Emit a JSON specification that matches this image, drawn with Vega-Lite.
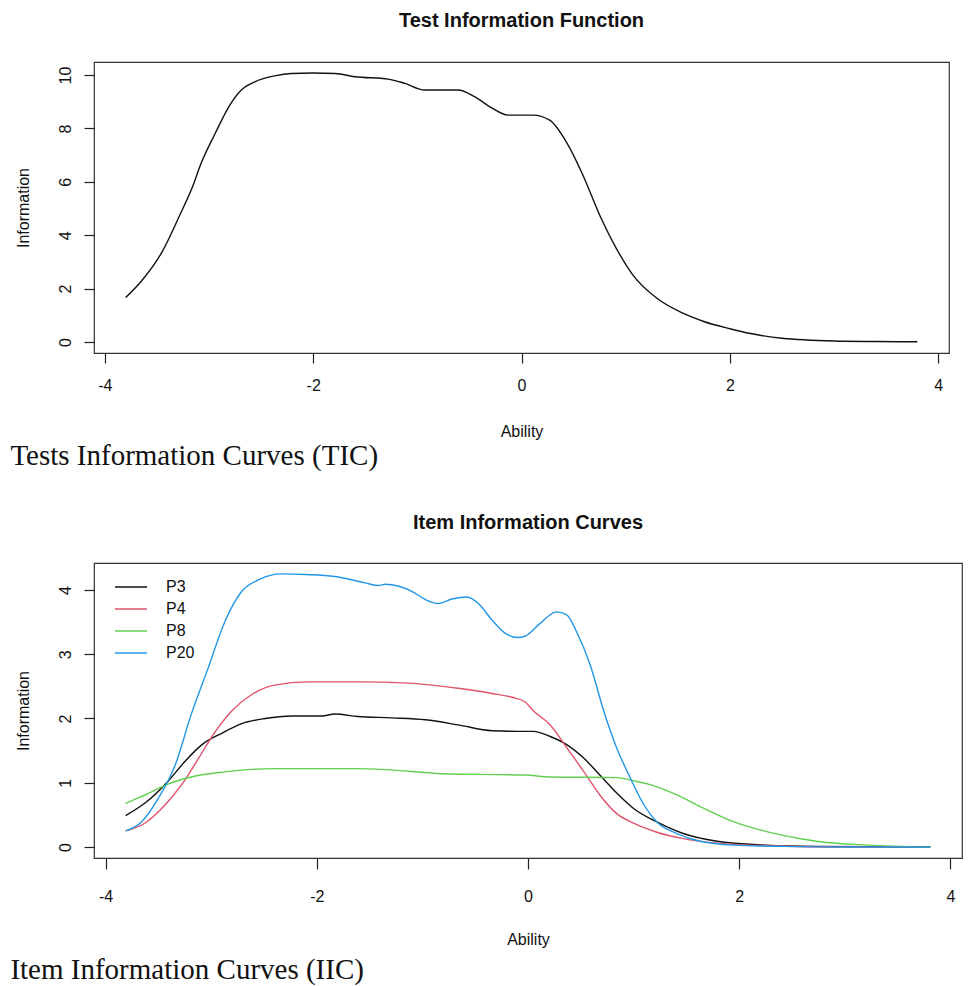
{
  "$schema": "https://vega.github.io/schema/vega-lite/v6.json",
  "padding": {"left": 10, "top": 10, "right": 0, "bottom": 0},
  "background": "white",
  "spacing": 41,
  "config": {
    "view": {"stroke": "#333333", "strokeWidth": 1.2},
    "axis": {
      "grid": false,
      "domain": false,
      "tickColor": "#222222",
      "tickWidth": 1.2,
      "tickSize": 10,
      "labelFont": "Liberation Sans",
      "labelFontSize": 16,
      "labelColor": "#111111",
      "titleFont": "Liberation Sans",
      "titleFontSize": 16,
      "titleFontWeight": "normal",
      "titleColor": "#111111",
      "labelExpr": "datum.value < 0 ? '-' + abs(datum.value) : '' + datum.value"
    },
    "axisX": {"labelPadding": 14, "labelBaseline": "top", "titlePadding": 30},
    "axisY": {"labelAngle": -90, "labelAlign": "center", "labelBaseline": "alphabetic", "labelPadding": 14, "titlePadding": 26},
    "title": {"font": "Liberation Sans", "fontSize": 20, "fontWeight": "bold", "color": "#111111", "offset": 31}
  },
  "vconcat": [
    {
      "title": {"text": "Tests Information Curves (TIC)", "orient": "bottom", "anchor": "start", "font": "Liberation Serif", "fontSize": 29, "fontWeight": "normal", "offset": 2, "dx": -4, "color": "#111111"},
      "vconcat": [
        {
          "title": {"text": "Test Information Function"},
          "width": 855,
          "height": 291,
          "data": {"values": [
            {"a": -3.80, "info": 1.67},
            {"a": -3.65, "info": 2.28},
            {"a": -3.45, "info": 3.38},
            {"a": -3.28, "info": 4.76},
            {"a": -3.165, "info": 5.75},
            {"a": -3.07, "info": 6.75},
            {"a": -2.94, "info": 7.82},
            {"a": -2.81, "info": 8.81},
            {"a": -2.69, "info": 9.44},
            {"a": -2.56, "info": 9.75},
            {"a": -2.37, "info": 9.97},
            {"a": -2.21, "info": 10.06},
            {"a": -2.0, "info": 10.08},
            {"a": -1.79, "info": 10.06},
            {"a": -1.60, "info": 9.94},
            {"a": -1.28, "info": 9.85},
            {"a": -1.12, "info": 9.69},
            {"a": -0.93, "info": 9.44},
            {"a": -0.61, "info": 9.44},
            {"a": -0.45, "info": 9.19},
            {"a": -0.29, "info": 8.78},
            {"a": -0.13, "info": 8.50},
            {"a": 0.11, "info": 8.50},
            {"a": 0.27, "info": 8.31},
            {"a": 0.43, "info": 7.50},
            {"a": 0.59, "info": 6.25},
            {"a": 0.75, "info": 4.76},
            {"a": 0.91, "info": 3.51},
            {"a": 1.07, "info": 2.51},
            {"a": 1.30, "info": 1.64},
            {"a": 1.55, "info": 1.08},
            {"a": 1.75, "info": 0.77},
            {"a": 2.0, "info": 0.50},
            {"a": 2.2, "info": 0.32},
            {"a": 2.5, "info": 0.14},
            {"a": 3.0, "info": 0.04},
            {"a": 3.4, "info": 0.02},
            {"a": 3.8, "info": 0.01}
          ]},
          "mark": {"type": "line", "color": "#111111", "strokeWidth": 1.4, "interpolate": "monotone"},
          "encoding": {
            "x": {"field": "a", "type": "quantitative", "title": "Ability", "scale": {"domain": [-4.104, 4.104], "nice": false, "zero": false}, "axis": {"values": [-4, -2, 0, 2, 4]}},
            "y": {"field": "info", "type": "quantitative", "title": "Information", "scale": {"domain": [-0.41, 10.49], "nice": false, "zero": false}, "axis": {"values": [0, 2, 4, 6, 8, 10]}}
          }
        }
      ]
    },
    {
      "title": {"text": "Item Information Curves (IIC)", "orient": "bottom", "anchor": "start", "font": "Liberation Serif", "fontSize": 29, "fontWeight": "normal", "offset": 8, "dx": -4, "color": "#111111"},
      "vconcat": [
        {
          "title": {"text": "Item Information Curves", "offset": 30},
          "width": 868,
          "height": 295,
          "data": {"values": [
            {"item": "P3", "a": -3.81, "info": 0.49},
            {"item": "P3", "a": -3.63, "info": 0.68},
            {"item": "P3", "a": -3.41, "info": 1.02},
            {"item": "P3", "a": -3.25, "info": 1.33},
            {"item": "P3", "a": -3.09, "info": 1.59},
            {"item": "P3", "a": -2.90, "info": 1.77},
            {"item": "P3", "a": -2.71, "info": 1.92},
            {"item": "P3", "a": -2.49, "info": 2.00},
            {"item": "P3", "a": -2.24, "info": 2.04},
            {"item": "P3", "a": -1.95, "info": 2.04},
            {"item": "P3", "a": -1.83, "info": 2.07},
            {"item": "P3", "a": -1.61, "info": 2.03},
            {"item": "P3", "a": -1.29, "info": 2.01},
            {"item": "P3", "a": -0.97, "info": 1.98},
            {"item": "P3", "a": -0.66, "info": 1.90},
            {"item": "P3", "a": -0.34, "info": 1.81},
            {"item": "P3", "a": -0.03, "info": 1.80},
            {"item": "P3", "a": 0.05, "info": 1.80},
            {"item": "P3", "a": 0.21, "info": 1.72},
            {"item": "P3", "a": 0.37, "info": 1.59},
            {"item": "P3", "a": 0.53, "info": 1.38},
            {"item": "P3", "a": 0.68, "info": 1.12},
            {"item": "P3", "a": 0.84, "info": 0.84},
            {"item": "P3", "a": 1.00, "info": 0.60},
            {"item": "P3", "a": 1.22, "info": 0.39},
            {"item": "P3", "a": 1.47, "info": 0.21},
            {"item": "P3", "a": 1.79, "info": 0.09},
            {"item": "P3", "a": 2.26, "info": 0.03},
            {"item": "P3", "a": 2.73, "info": 0.01},
            {"item": "P3", "a": 3.81, "info": 0.0},
            {"item": "P4", "a": -3.81, "info": 0.25},
            {"item": "P4", "a": -3.63, "info": 0.37},
            {"item": "P4", "a": -3.44, "info": 0.65},
            {"item": "P4", "a": -3.28, "info": 0.97},
            {"item": "P4", "a": -3.12, "info": 1.38},
            {"item": "P4", "a": -2.96, "info": 1.80},
            {"item": "P4", "a": -2.81, "info": 2.11},
            {"item": "P4", "a": -2.62, "info": 2.37},
            {"item": "P4", "a": -2.40, "info": 2.52},
            {"item": "P4", "a": -2.08, "info": 2.57},
            {"item": "P4", "a": -1.61, "info": 2.57},
            {"item": "P4", "a": -1.13, "info": 2.55},
            {"item": "P4", "a": -0.66, "info": 2.47},
            {"item": "P4", "a": -0.34, "info": 2.39},
            {"item": "P4", "a": -0.15, "info": 2.33},
            {"item": "P4", "a": -0.03, "info": 2.26},
            {"item": "P4", "a": 0.05, "info": 2.12},
            {"item": "P4", "a": 0.21, "info": 1.90},
            {"item": "P4", "a": 0.37, "info": 1.54},
            {"item": "P4", "a": 0.53, "info": 1.17},
            {"item": "P4", "a": 0.68, "info": 0.81},
            {"item": "P4", "a": 0.84, "info": 0.52},
            {"item": "P4", "a": 1.00, "info": 0.37},
            {"item": "P4", "a": 1.22, "info": 0.23},
            {"item": "P4", "a": 1.47, "info": 0.13},
            {"item": "P4", "a": 1.79, "info": 0.06},
            {"item": "P4", "a": 2.26, "info": 0.02},
            {"item": "P4", "a": 3.0, "info": 0.0},
            {"item": "P4", "a": 3.81, "info": 0.0},
            {"item": "P8", "a": -3.81, "info": 0.68},
            {"item": "P8", "a": -3.60, "info": 0.83},
            {"item": "P8", "a": -3.41, "info": 0.98},
            {"item": "P8", "a": -3.19, "info": 1.09},
            {"item": "P8", "a": -2.87, "info": 1.17},
            {"item": "P8", "a": -2.40, "info": 1.22},
            {"item": "P8", "a": -1.61, "info": 1.22},
            {"item": "P8", "a": -1.13, "info": 1.18},
            {"item": "P8", "a": -0.82, "info": 1.14},
            {"item": "P8", "a": -0.03, "info": 1.12},
            {"item": "P8", "a": 0.21, "info": 1.09},
            {"item": "P8", "a": 0.84, "info": 1.08},
            {"item": "P8", "a": 1.03, "info": 1.02},
            {"item": "P8", "a": 1.16, "info": 0.97},
            {"item": "P8", "a": 1.41, "info": 0.81},
            {"item": "P8", "a": 1.63, "info": 0.63},
            {"item": "P8", "a": 1.95, "info": 0.39},
            {"item": "P8", "a": 2.26, "info": 0.24},
            {"item": "P8", "a": 2.61, "info": 0.12},
            {"item": "P8", "a": 2.73, "info": 0.09},
            {"item": "P8", "a": 3.21, "info": 0.03},
            {"item": "P8", "a": 3.81, "info": 0.0},
            {"item": "P20", "a": -3.81, "info": 0.25},
            {"item": "P20", "a": -3.66, "info": 0.39},
            {"item": "P20", "a": -3.50, "info": 0.76},
            {"item": "P20", "a": -3.34, "info": 1.28},
            {"item": "P20", "a": -3.19, "info": 2.06},
            {"item": "P20", "a": -3.03, "info": 2.78},
            {"item": "P20", "a": -2.87, "info": 3.51},
            {"item": "P20", "a": -2.71, "info": 3.98},
            {"item": "P20", "a": -2.55, "info": 4.16},
            {"item": "P20", "a": -2.33, "info": 4.25},
            {"item": "P20", "a": -2.11, "info": 4.24},
            {"item": "P20", "a": -1.83, "info": 4.21},
            {"item": "P20", "a": -1.54, "info": 4.11},
            {"item": "P20", "a": -1.42, "info": 4.07},
            {"item": "P20", "a": -1.35, "info": 4.09},
            {"item": "P20", "a": -1.10, "info": 3.98},
            {"item": "P20", "a": -0.97, "info": 3.85},
            {"item": "P20", "a": -0.85, "info": 3.79},
            {"item": "P20", "a": -0.72, "info": 3.86},
            {"item": "P20", "a": -0.58, "info": 3.89},
            {"item": "P20", "a": -0.47, "info": 3.79},
            {"item": "P20", "a": -0.34, "info": 3.53},
            {"item": "P20", "a": -0.21, "info": 3.32},
            {"item": "P20", "a": -0.10, "info": 3.26},
            {"item": "P20", "a": -0.03, "info": 3.28},
            {"item": "P20", "a": 0.115, "info": 3.48},
            {"item": "P20", "a": 0.27, "info": 3.66},
            {"item": "P20", "a": 0.37, "info": 3.61},
            {"item": "P20", "a": 0.46, "info": 3.35},
            {"item": "P20", "a": 0.59, "info": 2.83},
            {"item": "P20", "a": 0.72, "info": 2.10},
            {"item": "P20", "a": 0.84, "info": 1.54},
            {"item": "P20", "a": 0.97, "info": 1.07},
            {"item": "P20", "a": 1.10, "info": 0.65},
            {"item": "P20", "a": 1.22, "info": 0.39},
            {"item": "P20", "a": 1.41, "info": 0.21},
            {"item": "P20", "a": 1.63, "info": 0.09},
            {"item": "P20", "a": 1.95, "info": 0.03},
            {"item": "P20", "a": 2.42, "info": 0.01},
            {"item": "P20", "a": 3.0, "info": 0.0},
            {"item": "P20", "a": 3.81, "info": 0.0}
          ]},
          "mark": {"type": "line", "strokeWidth": 1.4, "interpolate": "monotone"},
          "encoding": {
            "x": {"field": "a", "type": "quantitative", "title": "Ability", "scale": {"domain": [-4.11, 4.11], "nice": false, "zero": false}, "axis": {"values": [-4, -2, 0, 2, 4], "tickSize": 11, "labelPadding": 19, "titlePadding": 27}},
            "y": {"field": "info", "type": "quantitative", "title": "Information", "scale": {"domain": [-0.171, 4.42], "nice": false, "zero": false}, "axis": {"values": [0, 1, 2, 3, 4]}},
            "color": {
              "field": "item", "type": "nominal",
              "scale": {"domain": ["P3", "P4", "P8", "P20"], "range": ["#111111", "#DF536B", "#61D04F", "#2297E6"]},
              "legend": {
                "title": null,
                "orient": "none",
                "legendX": 29,
                "legendY": 517,
                "padding": 0,
                "symbolType": "M-3.2,0H3.2",
                "symbolSize": 100,
                "symbolStrokeWidth": 1.5,
                "labelFont": "Liberation Sans",
                "labelFontSize": 16,
                "labelColor": "#111111",
                "labelOffset": 27,
                "rowPadding": 6
              }
            }
          }
        }
      ]
    }
  ]
}
